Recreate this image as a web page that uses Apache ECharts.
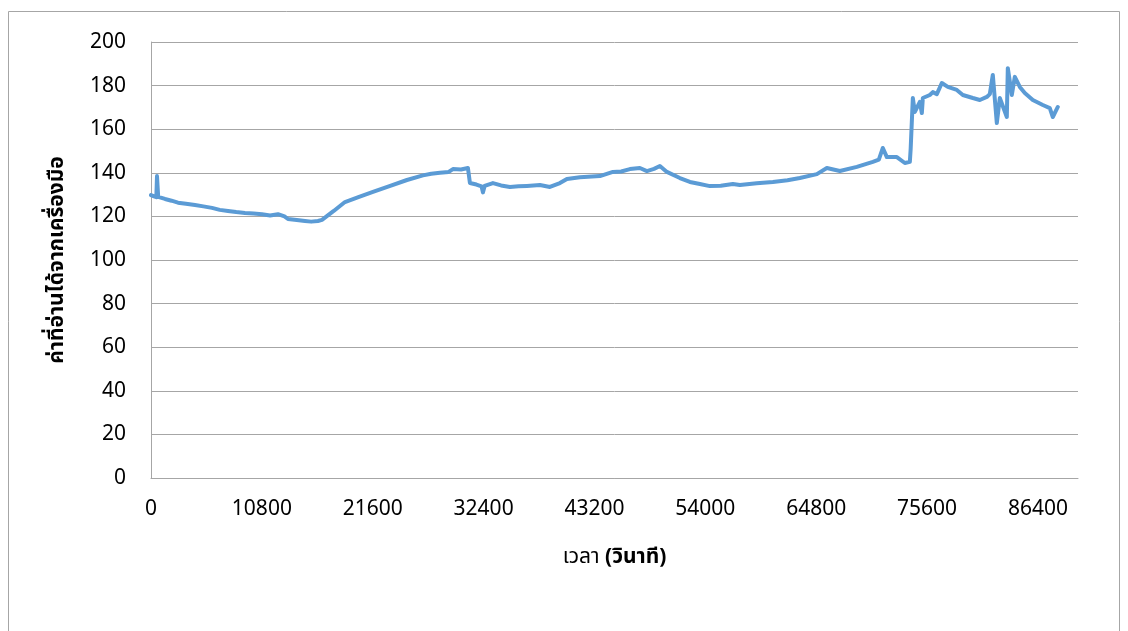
<!DOCTYPE html>
<html>
<head>
<meta charset="utf-8">
<script src="https://cdn.jsdelivr.net/npm/echarts@6/dist/echarts.min.js"></script>
<style>
  html, body { margin: 0; padding: 0; background: #fff; }
  #chart { width: 1128px; height: 631px; }
</style>
</head>
<body>
<div id="chart"></div>
<script>
// time (seconds) and reading
const seconds = [
  0, 300, 520, 584, 700, 1363, 2000, 2630, 3400, 4285, 5100, 5941, 6700, 7499,
  8300, 9155, 10000, 10810, 11600, 12369, 13000, 13342, 14200, 14998, 15600, 16264, 16654,
  17800, 18894, 20200, 21621, 23300, 24932, 26490, 27300, 28146, 29000, 29412, 30200, 30873,
  30970, 31067, 31700, 32200, 32333, 32500, 33307, 34100, 34963, 35800, 36619, 37885,
  38859, 39833, 40515, 41781, 43728, 44995, 45800, 46650, 47624, 48305, 49000, 49571,
  50253, 51519, 52493, 53467, 54441, 55500, 56681, 57363, 59000, 60577, 62000, 63206,
  64862, 65836, 67102, 68757, 70316, 70900, 71289, 71679, 72653, 73432, 73919, 74000,
  74114, 74211, 74406, 74893, 75088, 75185, 75867, 76159, 76549, 77035, 77620, 78496,
  79081, 80055, 80736, 81418, 81710, 82002, 82392, 82684, 83366, 83463, 83853, 84145,
  84632, 85119, 85898, 86872, 87554, 87846, 88333
];
const readings = [
  129.8, 129.2, 128.8, 138.5, 129.0, 128.0, 127.2, 126.3, 125.8, 125.2, 124.6, 123.9, 123.0, 122.5,
  122.0, 121.6, 121.3, 121.0, 120.4, 121.0, 120.0, 118.8, 118.3, 117.9, 117.6, 117.9, 118.4,
  122.5, 126.6, 128.8, 131.2, 134.0, 136.7, 138.8, 139.6, 140.0, 140.4, 141.7, 141.5, 142.2,
  142.0, 135.3, 134.6, 133.8, 131.0, 134.0, 135.3, 134.2, 133.5, 133.8, 134.0, 134.4,
  133.5, 135.3, 137.2, 138.0, 138.5, 140.4, 140.6, 141.7, 142.2, 140.8, 141.8, 143.1,
  140.4, 137.6, 135.8, 134.9, 133.9, 134.1, 134.9, 134.4, 135.2, 135.8, 136.6, 137.6,
  139.4, 142.2, 140.8, 142.7, 145.0, 146.0, 151.4, 147.2, 147.2, 144.5, 145.0, 151.0,
  151.8, 174.3, 167.9, 172.5, 167.4, 174.3, 175.7, 177.0, 176.1, 181.2, 179.4, 178.0,
  175.7, 174.3, 173.4, 174.8, 176.1, 184.9, 162.8, 174.3, 165.6, 188.0, 175.7, 184.0,
  179.4, 176.6, 173.4, 171.1, 169.7, 165.6, 170.2
];
const xTicks = [0, 10800, 21600, 32400, 43200, 54000, 64800, 75600, 86400];
const yTicks = [0, 20, 40, 60, 80, 100, 120, 140, 160, 180, 200];

const points = seconds.map((s, i) => [s, readings[i]]);
const thaiFont = '"Noto Sans Thai", "Noto Sans", "DejaVu Sans", sans-serif';
const numFont = '"Noto Sans", "Open Sans", sans-serif';

const chart = echarts.init(document.getElementById('chart'));
chart.setOption({
  animation: false,
  backgroundColor: '#ffffff',
  graphic: [{
    type: 'rect',
    shape: { x: 8.5, y: 11.5, width: 1111, height: 640 },
    style: { fill: 'none', stroke: '#a6a6a6', lineWidth: 1 },
    silent: true
  }],
  grid: { left: 151, top: 42, right: 50, bottom: 153 },
  xAxis: {
    type: 'value',
    min: 0,
    max: 90300,
    interval: 10800,
    name: '{r|เวลา} {b|(วินาที)}',
    nameLocation: 'middle',
    nameGap: 70,
    nameTextStyle: {
      fontFamily: thaiFont, fontSize: 21, color: '#000',
      rich: {
        r: { fontFamily: thaiFont, fontSize: 21, fontWeight: 'normal', color: '#000' },
        b: { fontFamily: thaiFont, fontSize: 21, fontWeight: 'bold', color: '#000' }
      }
    },
    axisLine: { show: true, lineStyle: { color: '#a6a6a6', width: 1 } },
    axisTick: { show: false },
    splitLine: { show: false },
    axisLabel: {
      color: '#000', fontSize: 21, fontFamily: numFont, margin: 21,
      showMaxLabel: false,
      formatter: v => (xTicks.includes(v) ? String(v) : '')
    }
  },
  yAxis: {
    type: 'value',
    min: yTicks[0],
    max: yTicks[yTicks.length - 1],
    interval: 20,
    name: 'ค่าที่อ่านได้จากเครื่องมือ',
    nameLocation: 'middle',
    nameGap: 82,
    nameRotate: 90,
    nameTextStyle: { fontFamily: thaiFont, fontSize: 21, fontWeight: 'bold', color: '#000' },
    axisLine: { show: true, lineStyle: { color: '#a6a6a6', width: 1 } },
    axisTick: { show: false },
    splitLine: { show: true, lineStyle: { color: '#a6a6a6', width: 1 } },
    axisLabel: { color: '#000', fontSize: 21, fontFamily: numFont, margin: 25 }
  },
  series: [{
    type: 'line',
    data: points,
    showSymbol: false,
    smooth: false,
    lineStyle: { color: '#5b9bd5', width: 4, join: 'round', cap: 'round' },
    itemStyle: { color: '#5b9bd5' }
  }]
});
</script>
</body>
</html>
